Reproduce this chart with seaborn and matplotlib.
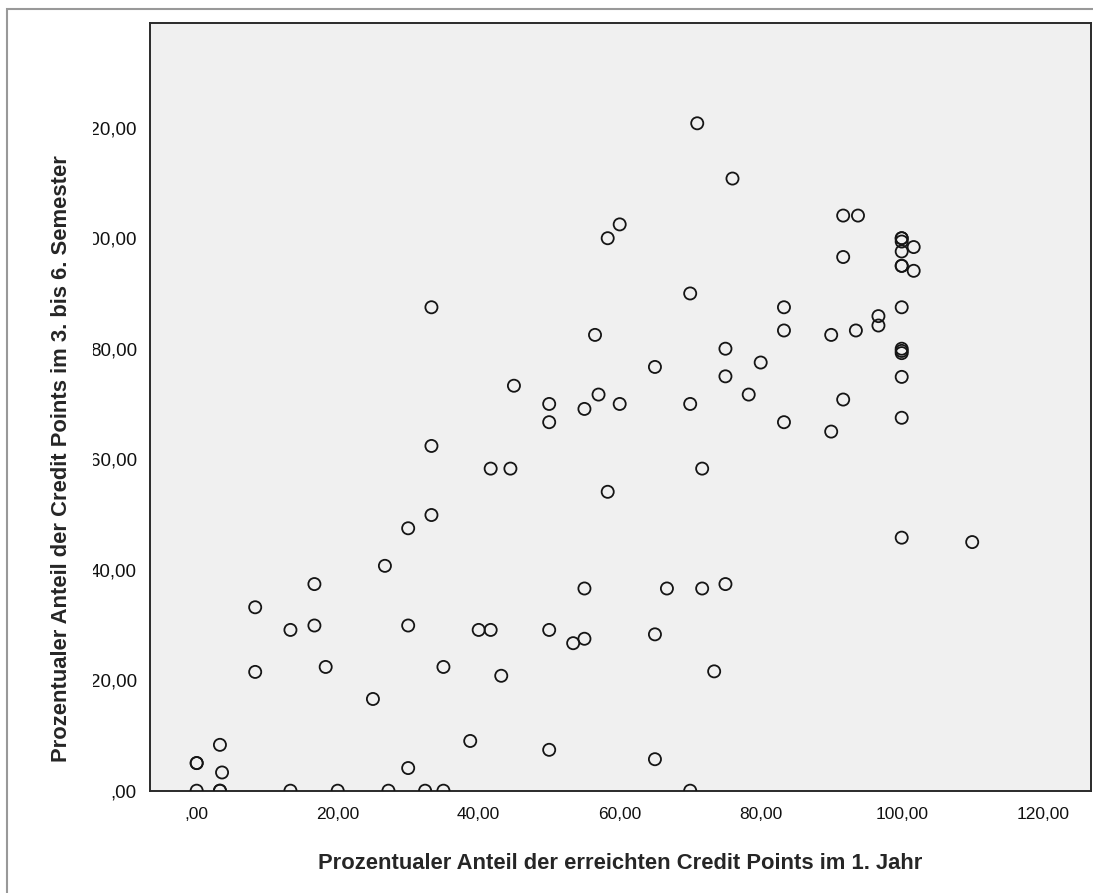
import matplotlib
matplotlib.use("Agg")
import matplotlib.pyplot as plt
import seaborn as sns
from matplotlib.transforms import Bbox
from matplotlib.patches import Rectangle

# percentage of credit points, 1st year (x) vs semesters 3-6 (y)
first_year = [0, 3.3, 3.3, 13.3, 20, 27.2, 32.4, 35, 70,
              0, 0, 3.3, 3.6, 30, 38.8, 50, 65,
              25, 8.3, 18.3, 35, 43.2, 73.4,
              8.3, 13.3, 16.7, 30, 40, 41.7, 50, 53.4, 55, 65,
              16.7, 26.7, 55, 66.7, 71.7, 75,
              100, 110,
              30, 33.3, 58.3, 41.7, 44.5, 71.7, 33.3,
              90, 50, 83.3, 100, 55, 50, 60, 70, 91.7, 57, 78.3, 45, 75, 100, 65, 80,
              75, 100, 100, 100, 56.5, 90, 93.5, 83.3, 96.7, 96.7, 83.3, 100, 33.3, 70,
              100, 100, 101.7, 91.7, 100, 101.7, 100, 100, 100, 58.3, 60, 91.7, 93.8,
              76, 71]
later_sem = [0, 0, 0, 0, 0, 0, 0, 0, 0,
             5, 5, 8.3, 3.3, 4.1, 9.0, 7.4, 5.7,
             16.6, 21.5, 22.4, 22.4, 20.8, 21.6,
             33.2, 29.1, 29.9, 29.9, 29.1, 29.1, 29.1, 26.7, 27.5, 28.3,
             37.4, 40.7, 36.6, 36.6, 36.6, 37.4,
             45.8, 45.0,
             47.5, 49.9, 54.1, 58.3, 58.3, 58.3, 62.4,
             65.0, 66.7, 66.7, 67.5, 69.1, 70, 70, 70, 70.8, 71.7, 71.7, 73.3, 75, 74.9, 76.7, 77.5,
             80, 80, 79.6, 79.2, 82.5, 82.5, 83.3, 83.3, 84.2, 85.9, 87.5, 87.5, 87.5, 90,
             95, 95, 94.1, 96.6, 97.6, 98.4, 99.4, 100, 100, 100, 102.5, 104.1, 104.1,
             110.8, 120.8]

tick_values = [0, 20, 40, 60, 80, 100, 120]
tick_labels = [",00", "20,00", "40,00", "60,00", "80,00", "100,00", "120,00"]
x_title = "Prozentualer Anteil der erreichten Credit Points im 1. Jahr"
y_title = "Prozentualer Anteil der Credit Points im 3. bis 6. Semester"

sns.set_style("white")
plt.rcParams["font.family"] = ["Liberation Sans", "DejaVu Sans"]

W, H = 1093, 893
fig = plt.figure(figsize=(W / 100, H / 100), dpi=100)
ax = fig.add_axes([150 / W, (H - 790.7) / H, (1091 - 150) / W, (790.7 - 23.3) / H])
ax.set_facecolor("#f0f0f0")

sns.scatterplot(x=first_year, y=later_sem, ax=ax, s=76, facecolor="none",
                edgecolor="#151515", linewidth=1.3, zorder=3)

ax.set_xlim(-6.62, 126.85)
ax.set_ylim(0, 138.9)
ax.set_xticks(tick_values, tick_labels)
ax.set_yticks(tick_values, tick_labels)
ax.tick_params(direction="out", length=8.5, width=1.4, color="#2a2a2a",
               labelcolor="#111111")
ax.tick_params(axis="x", pad=3, labelsize=12.5)
ax.tick_params(axis="y", pad=1, labelsize=13.5)
for s in ax.spines.values():
    s.set_color("#2a2a2a")
    s.set_linewidth(1.4)

ax.set_xlabel(x_title, fontsize=15.8, fontweight="bold")
ax.set_ylabel(y_title, fontsize=15.8, fontweight="bold")
ax.xaxis.set_label_coords(0.5, -0.081)
ax.yaxis.set_label_coords(-0.083, 0.433)

# the y tick labels are cut off on the left in the original
clip = Bbox([[93, 0], [W, H]])
for t in ax.yaxis.get_major_ticks():
    t.label1.set_clip_box(clip)
    t.label1.set_clip_on(True)

# thin grey frame around the chart
fig.patches.append(Rectangle((7 / W, -0.1), 1.2, (H - 9) / H + 0.1, transform=fig.transFigure,
                             fill=False, edgecolor="#999999", lw=1.5, clip_on=False))

fig.savefig("out.png", dpi=100)
